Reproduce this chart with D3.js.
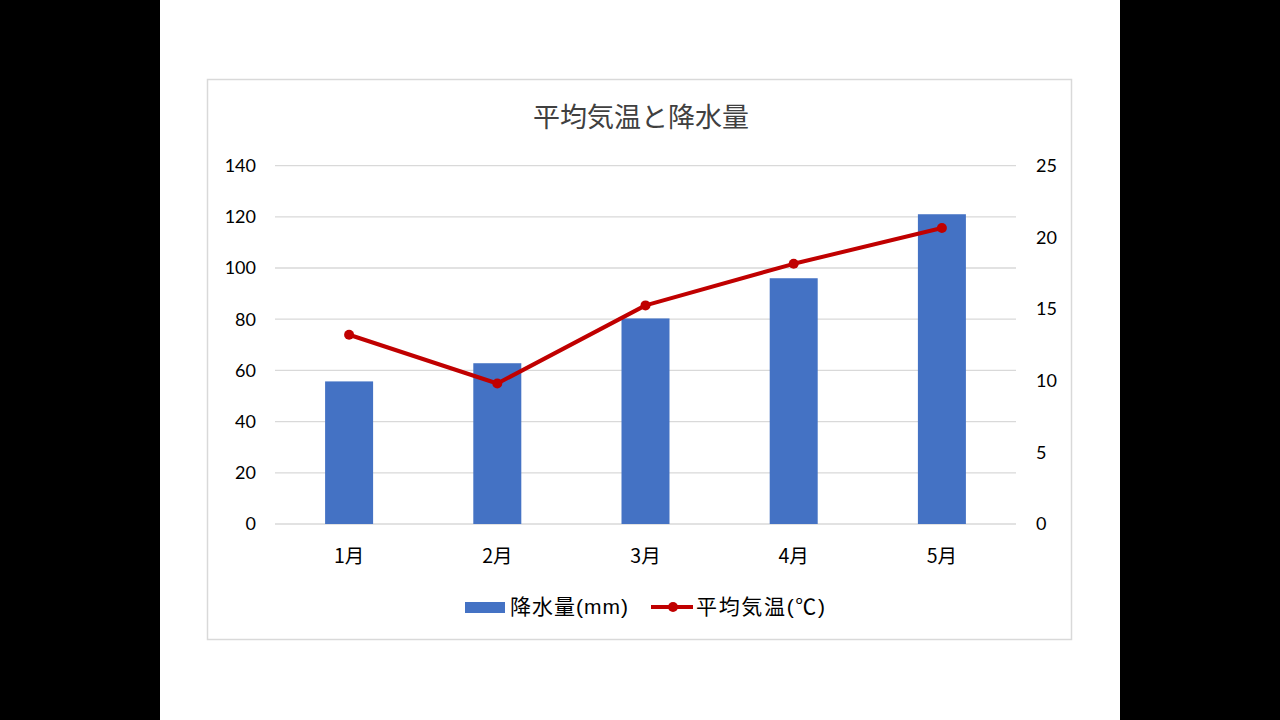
<!DOCTYPE html>
<html>
<head>
<meta charset="utf-8">
<script src="https://cdn.jsdelivr.net/npm/d3@7"></script>
<style>
  body { margin: 0; background: #000; }
  svg { display: block; }
</style>
</head>
<body>
<svg id="chart" width="1280" height="720"></svg>
<script>
const months = ["1月", "2月", "3月", "4月", "5月"];
const rainfall = [55.7, 62.8, 80.3, 96, 121];
const avgTemp = [13.2, 9.8, 15.25, 18.15, 20.65];
const leftTicks = [0, 20, 40, 60, 80, 100, 120, 140];
const rightTicks = [0, 5, 10, 15, 20, 25];

const svg = d3.select("#chart");
const jp = "'Noto Sans CJK JP', sans-serif";
const num = "Lato, 'Noto Sans', sans-serif";
const legendFont = "'Liberation Sans', 'Noto Sans CJK JP', sans-serif";

// white slide area
svg.append("rect").attr("x", 160).attr("y", 0).attr("width", 960).attr("height", 720).attr("fill", "#fff");
// chart frame
svg.append("rect").attr("x", 207.5).attr("y", 79.5).attr("width", 864).attr("height", 560)
  .attr("fill", "#fff").attr("stroke", "#d9d9d9").attr("stroke-width", 1.5);

const plot = { left: 275, right: 1016, top: 165.6, bottom: 524 };

const x = d3.scaleBand().domain(months).range([plot.left, plot.right]).paddingInner(0).paddingOuter(0);
const yL = d3.scaleLinear().domain([0, 140]).range([plot.bottom, plot.top]);
const yR = d3.scaleLinear().domain([0, 25]).range([plot.bottom, plot.top]);

// gridlines
svg.append("g").selectAll("line").data(leftTicks).join("line")
  .attr("x1", plot.left).attr("x2", plot.right)
  .attr("y1", d => yL(d)).attr("y2", d => yL(d))
  .attr("stroke", "#d9d9d9").attr("stroke-width", 1.3);

// left axis labels
svg.append("g").selectAll("text").data(leftTicks).join("text")
  .attr("x", 256).attr("y", d => yL(d)).attr("dy", "0.35em")
  .attr("text-anchor", "end").attr("font-family", num).attr("font-size", 18).attr("fill", "#000")
  .text(d => d);

// right axis labels
svg.append("g").selectAll("text").data(rightTicks).join("text")
  .attr("x", 1036).attr("y", d => yR(d)).attr("dy", "0.35em")
  .attr("text-anchor", "start").attr("font-family", num).attr("font-size", 18).attr("fill", "#000")
  .text(d => d);

// bars
const barW = 48;
svg.append("g").selectAll("rect").data(rainfall).join("rect")
  .attr("x", (d, i) => x(months[i]) + x.bandwidth() / 2 - barW / 2)
  .attr("y", d => yL(d))
  .attr("width", barW)
  .attr("height", d => yL(0) - yL(d))
  .attr("fill", "#4472c4");

// category labels
svg.append("g").selectAll("text").data(months).join("text")
  .attr("x", d => x(d) + x.bandwidth() / 2).attr("y", 556).attr("dy", "0.35em")
  .attr("text-anchor", "middle").attr("font-family", jp).attr("font-size", 19.5).attr("fill", "#000")
  .text(d => d);

// temperature line
const line = d3.line()
  .x((d, i) => x(months[i]) + x.bandwidth() / 2)
  .y(d => yR(d));
svg.append("path").datum(avgTemp).attr("d", line)
  .attr("fill", "none").attr("stroke", "#c00000").attr("stroke-width", 4).attr("stroke-linejoin", "round");
svg.append("g").selectAll("circle").data(avgTemp).join("circle")
  .attr("cx", (d, i) => x(months[i]) + x.bandwidth() / 2)
  .attr("cy", d => yR(d)).attr("r", 5).attr("fill", "#c00000");

// title
svg.append("text").attr("x", 641).attr("y", 118).attr("dy", "0.35em")
  .attr("text-anchor", "middle").attr("font-family", jp).attr("font-size", 27).attr("fill", "#404040")
  .text("平均気温と降水量");

// legend
const lg = svg.append("g");
lg.append("rect").attr("x", 465).attr("y", 602).attr("width", 40).attr("height", 11).attr("fill", "#4472c4");
lg.append("text").attr("x", 510).attr("y", 607).attr("dy", "0.35em")
  .attr("font-family", legendFont).attr("font-size", 21).attr("fill", "#000")
  .attr("textLength", 118).attr("lengthAdjust", "spacing").text("降水量(mm)");
lg.append("line").attr("x1", 651).attr("x2", 693).attr("y1", 607).attr("y2", 607)
  .attr("stroke", "#c00000").attr("stroke-width", 4);
lg.append("circle").attr("cx", 673).attr("cy", 607).attr("r", 5).attr("fill", "#c00000");
lg.append("text").attr("x", 696).attr("y", 607).attr("dy", "0.35em")
  .attr("font-family", legendFont).attr("font-size", 21).attr("fill", "#000")
  .attr("textLength", 129).attr("lengthAdjust", "spacing").text("平均気温(℃)");
</script>
</body>
</html>
